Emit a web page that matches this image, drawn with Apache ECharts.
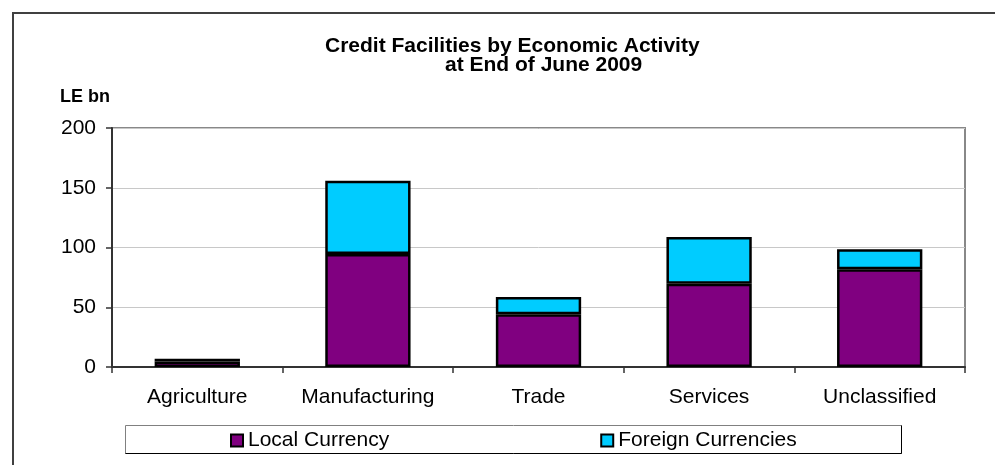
<!DOCTYPE html>
<html>
<head>
<meta charset="utf-8">
<script src="https://cdn.jsdelivr.net/npm/echarts@6/dist/echarts.min.js"></script>
<style>
  html, body { margin: 0; padding: 0; background: #fff; }
  #chart { width: 995px; height: 465px; }
</style>
</head>
<body>
<div id="chart"></div>
<script>
// Credit facilities by economic activity, LE bn, end of June 2009
const categories = ['Agriculture', 'Manufacturing', 'Trade', 'Services', 'Unclassified'];
const localCurrency = [4.5, 94.6, 44.1, 69.7, 81.8];
const foreignCurrencies = [2.5, 61.3, 14.5, 39.1, 16.7];
const yTicks = { min: 0, max: 200, interval: 50 };

const FONT = '"Liberation Sans", Arial, sans-serif';

const chart = echarts.init(document.getElementById('chart'), null, { renderer: 'canvas' });

const option = {
  backgroundColor: '#ffffff',
  animation: false,
  textStyle: { fontFamily: FONT, color: '#000' },
  title: [
    {
      text: 'Credit Facilities by Economic Activity',
      left: 325, top: 36, padding: 0,
      textStyle: { fontFamily: FONT, fontSize: 21, fontWeight: 'bold', color: '#000' }
    },
    {
      text: 'at End of June 2009',
      left: 445, top: 55, padding: 0,
      textStyle: { fontFamily: FONT, fontSize: 21, fontWeight: 'bold', color: '#000' }
    },
    {
      text: 'LE bn',
      left: 60, top: 88, padding: 0,
      textStyle: { fontFamily: FONT, fontSize: 18, fontWeight: 'bold', color: '#000' }
    }
  ],
  grid: {
    left: 112, right: 30, top: 128, bottom: 98,
    show: true, borderColor: '#888', borderWidth: 2, backgroundColor: 'transparent'
  },
  legend: {
    data: ['Local Currency', 'Foreign Currencies'],
    left: 230, top: 430, padding: 0,
    icon: 'rect', itemWidth: 12, itemHeight: 12, itemGap: 211,
    itemStyle: { borderColor: '#000', borderWidth: 2 },
    textStyle: { fontFamily: FONT, fontSize: 21, color: '#000' }
  },
  xAxis: {
    type: 'category',
    data: categories,
    axisLine: { lineStyle: { color: '#333', width: 2 } },
    axisTick: { show: true, length: 6, lineStyle: { color: '#333', width: 1.5 } },
    axisLabel: { interval: 0, fontFamily: FONT, fontSize: 21, color: '#000', margin: 20 }
  },
  yAxis: {
    type: 'value',
    min: yTicks.min, max: yTicks.max, interval: yTicks.interval,
    axisLine: { show: true, lineStyle: { color: '#333', width: 2 } },
    axisTick: { show: true, length: 6, lineStyle: { color: '#333', width: 1.5 } },
    axisLabel: { fontFamily: FONT, fontSize: 21, color: '#000', margin: 16 },
    splitLine: { show: true, lineStyle: { color: '#c8c8c8', width: 1 } }
  },
  series: [
    {
      name: 'Local Currency', type: 'bar', stack: 'total', barWidth: '50%',
      data: localCurrency,
      itemStyle: { color: '#800080', borderColor: '#000', borderWidth: 2.5 }
    },
    {
      name: 'Foreign Currencies', type: 'bar', stack: 'total', barWidth: '50%',
      data: foreignCurrencies,
      itemStyle: { color: '#00ccff', borderColor: '#000', borderWidth: 2.5 }
    }
  ],
  graphic: [
    // outer frame of the chart area
    { type: 'rect', silent: true, shape: { x: 13, y: 13, width: 1000, height: 500 },
      style: { fill: 'none', stroke: '#404040', lineWidth: 2 } },
    // legend box: light top/left, dark bottom/right
    { type: 'rect', silent: true, z: -1, shape: { x: 125.5, y: 425.5, width: 776, height: 28 },
      style: { fill: '#fff', stroke: '#808080', lineWidth: 1 } },
    { type: 'polyline', silent: true, shape: { points: [[125.5, 453.5], [901.5, 453.5], [901.5, 425.5]] },
      style: { fill: 'none', stroke: '#000', lineWidth: 1 } }
  ]
};

chart.setOption(option);
</script>
</body>
</html>
